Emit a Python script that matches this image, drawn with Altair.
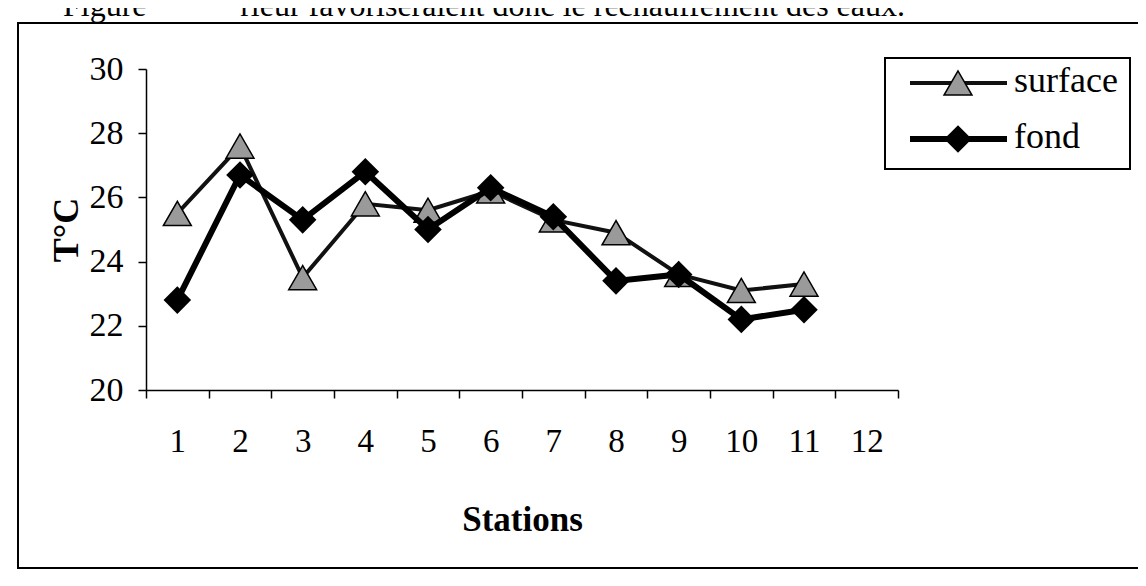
import altair as alt
import pandas as pd

# ---- data ----
stations = [1, 2, 3, 4, 5, 6, 7, 8, 9, 10, 11]
surface = [25.5, 27.6, 23.5, 25.8, 25.6, 26.2, 25.3, 24.9, 23.6, 23.1, 23.3]
fond = [22.8, 26.7, 25.3, 26.8, 25.0, 26.3, 25.4, 23.4, 23.6, 22.2, 22.5]
x_categories = [1, 2, 3, 4, 5, 6, 7, 8, 9, 10, 11, 12]
y_ticks = [20, 22, 24, 26, 28, 30]
series_names = ["surface", "fond"]
caption_left = ["Figure"]
caption_right = ["rieur favoriseraient donc le réchauffement des eaux."]

df = pd.DataFrame({
    "station": stations * 2,
    "temp": surface + fond,
    "serie": [series_names[0]] * len(stations) + [series_names[1]] * len(stations),
})

FONT = "Liberation Serif"

x_enc = alt.X(
    "station:O",
    bandPosition=0.5,
    scale=alt.Scale(type="band", domain=x_categories, paddingInner=0, paddingOuter=0),
    axis=alt.Axis(
        title="Stations", labelAngle=0, tickBand="extent", tickSize=8,
        labelPadding=27, labelFontSize=33, titleFontSize=35, titleFontWeight="bold",
        titlePadding=44, domainWidth=1.5, tickWidth=1.5,
    ),
)
y_enc = alt.Y(
    "temp:Q",
    scale=alt.Scale(domain=[20, 30], nice=False, zero=False),
    axis=alt.Axis(
        title="T°C", values=y_ticks, tickSize=8, labelPadding=15, labelFontSize=34,
        titleFontSize=36, titleFontWeight="bold", titlePadding=4,
        domainWidth=1.5, tickWidth=1.5,
    ),
)

one = pd.DataFrame({"k": [0]})

frame = alt.Chart(one).mark_rect(fillOpacity=0, stroke="black", strokeWidth=2).encode(
    x=alt.value(-128), x2=alt.value(1010), y=alt.value(-46), y2=alt.value(499)
)

surf_line = alt.Chart(df).transform_filter(alt.datum.serie == "surface").mark_line(
    color="#111111", strokeWidth=4
).encode(x=x_enc, y=y_enc)
surf_pts = alt.Chart(df).transform_filter(alt.datum.serie == "surface").mark_point(
    shape="triangle-up", filled=True, fill="#9a9a9a", stroke="black", strokeWidth=1.5,
    size=780, opacity=1
).encode(x=x_enc, y=y_enc)
fond_line = alt.Chart(df).transform_filter(alt.datum.serie == "fond").mark_line(
    color="black", strokeWidth=6
).encode(x=x_enc, y=y_enc)
fond_pts = alt.Chart(df).transform_filter(alt.datum.serie == "fond").mark_point(
    shape="diamond", filled=True, fill="black", size=760, opacity=1
).encode(x=x_enc, y=y_enc)

# legend (drawn by hand to match the boxed Excel legend)
leg_box = alt.Chart(one).mark_rect(fill="white", stroke="black", strokeWidth=2).encode(
    x=alt.value(739), x2=alt.value(984), y=alt.value(-11), y2=alt.value(100)
)
leg_rule1 = alt.Chart(one).mark_rule(color="#111111", strokeWidth=4).encode(
    x=alt.value(764), x2=alt.value(861), y=alt.value(14)
)
leg_rule2 = alt.Chart(one).mark_rule(color="black", strokeWidth=6).encode(
    x=alt.value(764), x2=alt.value(861), y=alt.value(70)
)
leg_sym1 = alt.Chart(one).mark_point(
    shape="triangle-up", filled=True, fill="#9a9a9a", stroke="black", strokeWidth=1.5,
    size=780, opacity=1
).encode(x=alt.value(812), y=alt.value(14))
leg_sym2 = alt.Chart(one).mark_point(
    shape="diamond", filled=True, fill="black", size=760, opacity=1
).encode(x=alt.value(812), y=alt.value(70))
leg_txt1 = alt.Chart(pd.DataFrame({"label": [series_names[0]]})).mark_text(
    align="left", baseline="middle", font=FONT, fontSize=36, color="black"
).encode(x=alt.value(868), y=alt.value(12), text="label:N")
leg_txt2 = alt.Chart(pd.DataFrame({"label": [series_names[1]]})).mark_text(
    align="left", baseline="middle", font=FONT, fontSize=36, color="black"
).encode(x=alt.value(868), y=alt.value(68), text="label:N")

cap1 = alt.Chart(pd.DataFrame({"t": caption_left})).mark_text(
    align="left", baseline="alphabetic", font=FONT, fontSize=32, color="black"
).encode(x=alt.value(-83), y=alt.value(-53), text="t:N")
cap2 = alt.Chart(pd.DataFrame({"t": caption_right})).mark_text(
    align="right", baseline="alphabetic", font=FONT, fontSize=32, color="black"
).encode(x=alt.value(759), y=alt.value(-53), text="t:N")

chart = alt.layer(
    frame, cap1, cap2, surf_line, surf_pts, fond_line, fond_pts,
    leg_box, leg_rule1, leg_rule2, leg_sym1, leg_sym2, leg_txt1, leg_txt2,
).properties(
    width=752, height=321,
    padding={"left": 138, "top": 61, "right": 240, "bottom": 188},
    autosize=alt.AutoSizeParams(type="none"),
    background="white",
).configure_view(stroke=None).configure_axis(
    labelFont=FONT, titleFont=FONT, labelColor="black", titleColor="black",
    domainColor="black", tickColor="black", grid=False,
)

chart.save("out.html", embed_options={"renderer": "svg", "actions": False})
